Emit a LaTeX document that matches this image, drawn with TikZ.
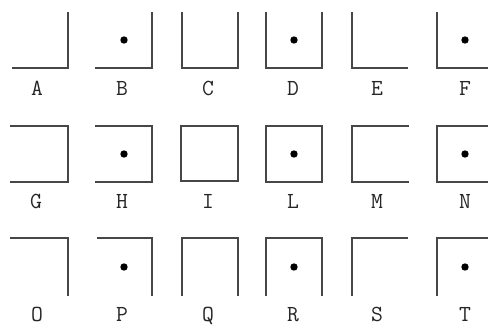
\documentclass[tikz,border=0pt]{standalone}
\begin{document}
\begin{tikzpicture}[x=1pt,y=-1pt,
  glyph/.style={draw=black!72,line width=1.3pt,line cap=rect},
  pip/.style={fill=black,draw=none},
  lab/.style={font=\ttfamily\fontsize{23}{23}\selectfont,text=black!85,inner sep=0pt,
    text height=0.62em,text depth=0pt,anchor=center}]
\useasboundingbox (0,0) rectangle (488,329);
% Row 1
\draw[glyph] (13,68) -- (68,68) -- (68,13);
\draw[glyph] (96,68) -- (152,68) -- (152,13);
\draw[glyph] (182,13) -- (182,68) -- (238,68) -- (238,13);
\draw[glyph] (266,13) -- (266,68) -- (322,68) -- (322,13);
\draw[glyph] (352,13) -- (352,68) -- (407,68);
\draw[glyph] (437,13) -- (437,68) -- (493,68);
% Row 2
\draw[glyph] (11,126) -- (68,126) -- (68,182) -- (11,182);
\draw[glyph] (96,126) -- (152,126) -- (152,182) -- (96,182);
\draw[glyph] (181,126) rectangle (238,181);
\draw[glyph] (266,126) rectangle (322,182);
\draw[glyph] (408,126) -- (352,126) -- (352,182) -- (408,182);
\draw[glyph] (493,126) -- (437,126) -- (437,182) -- (493,182);
% Row 3
\draw[glyph] (11,238) -- (68,238) -- (68,295);
\draw[glyph] (98,238) -- (152,238) -- (152,295);
\draw[glyph] (182,295) -- (182,238) -- (238,238) -- (238,295);
\draw[glyph] (266,295) -- (266,238) -- (322,238) -- (322,295);
\draw[glyph] (352,295) -- (352,238) -- (407,238);
\draw[glyph] (437,295) -- (437,238) -- (493,238);
% dots
\foreach \x in {124,294,465} {
  \fill[pip] (\x,40) circle (3.7);
  \fill[pip] (\x,154) circle (3.7);
  \fill[pip] (\x,267) circle (3.7);
}
% labels
\node[lab] (lA) at (37,92) {A};
\node[lab] (lB) at (122,92) {B};
\node[lab] (lC) at (208,92) {C};
\node[lab] (lD) at (293,92) {D};
\node[lab] (lE) at (377,92) {E};
\node[lab] (lF) at (465,92) {F};
\node[lab] (lG) at (36,205) {G};
\node[lab] (lH) at (122,205) {H};
\node[lab] (lI) at (208,205) {I};
\node[lab] (lL) at (293,205) {L};
\node[lab] (lM) at (377,205) {M};
\node[lab] (lN) at (465,205) {N};
\node[lab] (lO) at (37,318) {O};
\node[lab] (lP) at (122,318) {P};
\node[lab] (lQ) at (208,318) {Q};
\node[lab] (lR) at (293,318) {R};
\node[lab] (lS) at (377,318) {S};
\node[lab] (lT) at (465,318) {T};
\end{tikzpicture}
\end{document}
